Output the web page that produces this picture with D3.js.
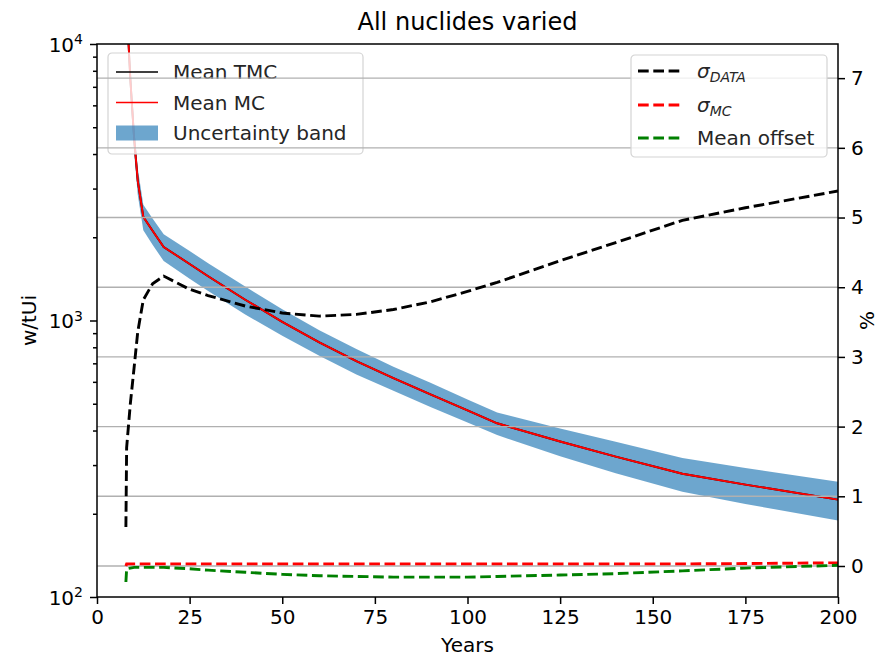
<!DOCTYPE html>
<html>
<head>
<meta charset="utf-8">
<script src="https://cdn.jsdelivr.net/npm/d3@7"></script>
<style>
  body { margin: 0; background: #fff; }
  svg text { font-family: "DejaVu Sans", sans-serif; fill: #000; }
</style>
</head>
<body>
<div id="chart"></div>
<script>
// ---- data ----
let years      = [7.8, 8, 9, 10, 11, 12.5, 15, 18, 25, 30, 40, 50, 60, 70, 80, 90, 100, 108, 125, 140, 158, 175, 200];
let meanTMC    = [14800, 13700, 7460, 4590, 3200, 2370, 2110, 1845, 1600, 1445, 1189, 989, 834, 713, 619, 541, 473, 425, 365, 322, 279, 255, 225];
let meanMC     = [14800, 13700, 7460, 4590, 3200, 2370, 2110, 1845, 1600, 1445, 1189, 989, 834, 713, 619, 541, 473, 425, 365, 322, 279, 255, 225];
let bandUpper  = [16430, 15200, 8280, 5095, 3550, 2620, 2340, 2050, 1784, 1611, 1326, 1098, 922, 788, 681, 595, 518, 465, 407, 364, 318, 293, 261];
let bandLower  = [13170, 12200, 6640, 4085, 2850, 2120, 1880, 1640, 1416, 1279, 1052, 880, 746, 638, 557, 487, 428, 385, 323, 280, 240, 217, 189];
let sigmaData  = [0.56, 1.70, 2.33, 2.84, 3.36, 3.82, 4.05, 4.16, 3.97, 3.88, 3.73, 3.63, 3.585, 3.61, 3.68, 3.79, 3.94, 4.07, 4.38, 4.64, 4.96, 5.14, 5.38];
let sigmaMC    = [0.00, 0.03, 0.03, 0.03, 0.03, 0.03, 0.03, 0.03, 0.03, 0.03, 0.03, 0.03, 0.03, 0.03, 0.03, 0.03, 0.03, 0.03, 0.03, 0.03, 0.03, 0.035, 0.045];
let meanOffset = [-0.23, -0.04, -0.03, -0.02, -0.02, -0.02, -0.02, -0.02, -0.04, -0.06, -0.09, -0.12, -0.14, -0.15, -0.16, -0.16, -0.16, -0.15, -0.13, -0.11, -0.07, -0.03, 0.01];

let xTicks      = [0, 25, 50, 75, 100, 125, 150, 175, 200];
let leftTicks   = [100, 1000, 10000];
let leftExp     = ["2", "3", "4"];
let rightTicks  = [0, 1, 2, 3, 4, 5, 6, 7];

let width  = 891,
    height = 657;

let margin = { top: 44, right: 53, bottom: 60, left: 97 };
let plotW = width - margin.left - margin.right,
    plotH = height - margin.top - margin.bottom;

let x  = d3.scaleLinear().domain([0, 200]).range([0, plotW]);
let yL = d3.scaleLog().domain([100, 10000]).range([plotH, 0]);
let yR = d3.scaleLinear().domain([-0.445, 7.49]).range([plotH, 0]);

let svg = d3.select("#chart").append("svg")
    .attr("width", width)
    .attr("height", height);

svg.append("defs").append("clipPath")
    .attr("id", "clip")
  .append("rect")
    .attr("width", plotW)
    .attr("height", plotH);

let g = svg.append("g")
    .attr("transform", translate(margin.left, margin.top));

let rows = years.map(function(yr, i) {
  return {
    year: yr, tmc: meanTMC[i], mc: meanMC[i], lo: bandLower[i], hi: bandUpper[i],
    sData: sigmaData[i], sMC: sigmaMC[i], off: meanOffset[i]
  };
});

// ---- left axis content ----
let left = g.append("g").attr("clip-path", "url(#clip)");

left.append("path")
    .datum(rows)
    .attr("fill", "#1f77b4")
    .attr("fill-opacity", 0.65)
    .attr("d", d3.area()
      .x(function(d) { return x(d.year); })
      .y0(function(d) { return yL(d.lo); })
      .y1(function(d) { return yL(d.hi); }));

left.append("path")
    .datum(rows)
    .attr("fill", "none")
    .attr("stroke", "#000")
    .attr("stroke-width", 1.9)
    .attr("d", d3.line()
      .x(function(d) { return x(d.year); })
      .y(function(d) { return yL(d.tmc); }));

left.append("path")
    .datum(rows)
    .attr("fill", "none")
    .attr("stroke", "#ff0000")
    .attr("stroke-width", 1.9)
    .attr("d", d3.line()
      .x(function(d) { return x(d.year); })
      .y(function(d) { return yL(d.mc); }));

// legend of the left axis (sits under the right axis grid)
let leg1 = g.append("g").attr("transform", translate(11, 9));
leg1.append("rect")
    .attr("width", 255).attr("height", 101)
    .attr("rx", 4)
    .attr("fill", "#fff").attr("fill-opacity", 0.8)
    .attr("stroke", "#d4d4d4").attr("stroke-width", 1.2);
let leg1Items = [
  { label: "Mean TMC", color: "#000", kind: "line" },
  { label: "Mean MC", color: "#ff0000", kind: "line" },
  { label: "Uncertainty band", color: "#1f77b4", kind: "patch" }
];
leg1Items.forEach(function(d, i) {
  let cy = 19 + i * 30.5;
  if (d.kind == "line") {
    leg1.append("line")
        .attr("x1", 8).attr("x2", 50)
        .attr("y1", cy).attr("y2", cy)
        .attr("stroke", d.color).attr("stroke-width", 1.5);
  } else {
    leg1.append("rect")
        .attr("x", 8).attr("y", cy - 7.5)
        .attr("width", 42).attr("height", 15)
        .attr("fill", d.color).attr("fill-opacity", 0.65);
  }
  leg1.append("text")
      .attr("x", 65).attr("y", cy)
      .attr("dy", "0.36em")
      .style("font-size", "20px")
      .style("fill", "#262626")
      .text(d.label);
});

// ---- right axis: grid then dashed lines ----
g.append("g")
  .selectAll("line")
    .data(rightTicks)
  .enter().append("line")
    .attr("x1", 0).attr("x2", plotW)
    .attr("y1", function(d) { return yR(d); })
    .attr("y2", function(d) { return yR(d); })
    .attr("stroke", "#b0b0b0")
    .attr("stroke-width", 1.4);

let right = g.append("g").attr("clip-path", "url(#clip)");
let dashed = [
  { key: "sData", color: "#000" },
  { key: "sMC", color: "#ff0000" },
  { key: "off", color: "#008000" }
];
dashed.forEach(function(s) {
  right.append("path")
      .datum(rows)
      .attr("fill", "none")
      .attr("stroke", s.color)
      .attr("stroke-width", 2.9)
      .attr("stroke-dasharray", "10.7,4.6")
      .attr("d", d3.line()
        .x(function(d) { return x(d.year); })
        .y(function(d) { return yR(d[s.key]); }));
});

// ---- spines and axes ----
g.append("rect")
    .attr("width", plotW).attr("height", plotH)
    .attr("fill", "none")
    .attr("stroke", "#000")
    .attr("stroke-width", 1.5);

let xAxis = g.append("g")
    .attr("transform", translate(0, plotH))
    .call(d3.axisBottom(x).tickValues(xTicks).tickSize(7).tickPadding(6));

let minor = [];
[100, 1000].forEach(function(base) {
  for (let k = 2; k <= 9; k++) minor.push(base * k);
});

let yAxisL = g.append("g")
    .call(d3.axisLeft(yL).tickValues(leftTicks).tickSize(7).tickPadding(7).tickFormat(""));
g.append("g")
    .call(d3.axisLeft(yL).tickValues(minor).tickSize(4).tickFormat(""));

let yAxisR = g.append("g")
    .attr("transform", translate(plotW, 0))
    .call(d3.axisRight(yR).tickValues(rightTicks).tickSize(7).tickPadding(6));

g.selectAll(".domain").remove();
g.selectAll(".tick line").attr("stroke", "#000").attr("stroke-width", 1.5);
g.selectAll(".tick text")
    .style("font-size", "20px")
    .style("font-family", "'DejaVu Sans', sans-serif")
    .attr("fill", "#000");

// log labels as 10 with superscript
yAxisL.selectAll(".tick").each(function(d, i) {
  let t = d3.select(this).append("text")
      .attr("x", -14)
      .attr("dy", "0.36em")
      .attr("text-anchor", "end")
      .style("font-size", "20px")
      .attr("fill", "#000");
  t.append("tspan").text("10");
  t.append("tspan")
      .attr("dy", "-0.55em")
      .style("font-size", "14px")
      .text(leftExp[i]);
});

// right legend
let leg2 = g.append("g").attr("transform", translate(534, 11));
leg2.append("rect")
    .attr("width", 196).attr("height", 102)
    .attr("rx", 4)
    .attr("fill", "#fff").attr("fill-opacity", 0.8)
    .attr("stroke", "#d4d4d4").attr("stroke-width", 1.2);
let leg2Items = [
  { sym: "σ", sub: "DATA", color: "#000", cy: 16 },
  { sym: "σ", sub: "MC", color: "#ff0000", cy: 50 },
  { label: "Mean offset", color: "#008000", cy: 83 }
];
leg2Items.forEach(function(d) {
  leg2.append("line")
      .attr("x1", 7).attr("x2", 49)
      .attr("y1", d.cy).attr("y2", d.cy)
      .attr("stroke", d.color)
      .attr("stroke-width", 2.9)
      .attr("stroke-dasharray", "10.7,4.6");
  let t = leg2.append("text")
      .attr("x", 66).attr("y", d.cy)
      .attr("dy", "0.36em")
      .style("font-size", "20px")
      .style("fill", "#262626");
  if (d.label) {
    t.text(d.label);
  } else {
    t.append("tspan").style("font-style", "italic").text(d.sym);
    t.append("tspan")
        .attr("dy", "0.3em")
        .style("font-style", "italic")
        .style("font-size", "14px")
        .text(d.sub);
  }
});

// ---- titles ----
svg.append("text")
    .attr("x", margin.left + plotW / 2)
    .attr("y", 30)
    .attr("text-anchor", "middle")
    .style("font-size", "24px")
    .text("All nuclides varied");

svg.append("text")
    .attr("x", margin.left + plotW / 2)
    .attr("y", 652)
    .attr("text-anchor", "middle")
    .style("font-size", "20px")
    .text("Years");

svg.append("text")
    .attr("transform", translate(36, margin.top + plotH / 2) + " rotate(-90)")
    .attr("text-anchor", "middle")
    .style("font-size", "20px")
    .text("w/tUi");

svg.append("text")
    .attr("transform", translate(874, margin.top + plotH / 2) + " rotate(-90)")
    .attr("text-anchor", "middle")
    .style("font-size", "20px")
    .text("%");

function translate(x, y=0) {
  return "translate({x}, {y})"
          .replace("{x}", x)
          .replace("{y}", y);
}
</script>
</body>
</html>
